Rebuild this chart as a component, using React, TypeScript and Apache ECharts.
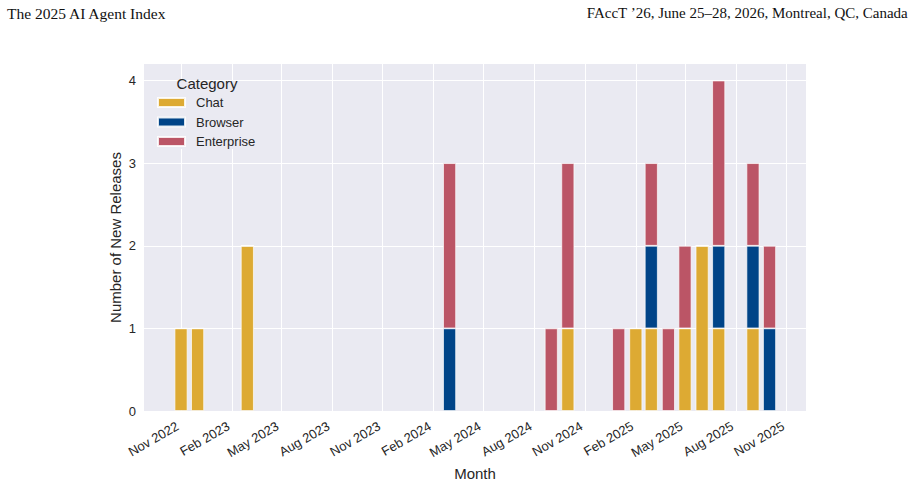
import React, { useEffect, useRef } from "react";
import * as echarts from "echarts";

// ---- data ----
const months = ["2022-11", "2022-12", "2023-03", "2024-03", "2024-09", "2024-10", "2025-01", "2025-02", "2025-03", "2025-04", "2025-05", "2025-06", "2025-07", "2025-09", "2025-10"];
const chat = [1, 1, 2, 0, 0, 1, 0, 1, 1, 0, 1, 2, 1, 1, 0];
const browser = [0, 0, 0, 1, 0, 0, 0, 0, 1, 0, 0, 0, 1, 1, 1];
const enterprise = [0, 0, 0, 2, 1, 2, 1, 0, 1, 1, 1, 0, 2, 1, 1];
const categories = ["Chat", "Browser", "Enterprise"];
const tickMonths = ["2022-11", "2023-02", "2023-05", "2023-08", "2023-11", "2024-02", "2024-05", "2024-08", "2024-11", "2025-02", "2025-05", "2025-08", "2025-11"];
const yTicks = [0, 1, 2, 3, 4];
const monthNames = ["Jan", "Feb", "Mar", "Apr", "May", "Jun", "Jul", "Aug", "Sep", "Oct", "Nov", "Dec"];
const xRange = ["2022-08-26", "2025-12-06"];
const yMax = 4.2;

const COLORS = ["#DDAA33", "#004488", "#BB5566"];
const TEXT = "#262626";
const FONT = "Liberation Sans";

function toTime(m: string): number {
  const [y, mo, d] = m.split("-").map(Number);
  return Date.UTC(y, mo - 1, d || 1);
}

export default function App() {
  const ref = useRef<HTMLDivElement>(null);
  useEffect(() => {
    if (!ref.current) return;
    const chart = echarts.init(ref.current, undefined, { renderer: "svg" });
    const seriesValues = [chat, browser, enterprise];
    const tickVals = tickMonths.map((m) => toTime(m));
    chart.setOption({
      animation: false,
      backgroundColor: "#ffffff",
      textStyle: { fontFamily: FONT },
      grid: { left: 144, right: 109, top: 64, bottom: 72, show: true, backgroundColor: "#EAEAF2", borderWidth: 0 },
      xAxis: {
        type: "value",
        min: toTime(xRange[0]),
        max: toTime(xRange[1]),
        axisLine: { show: false },
        axisTick: { show: false, customValues: tickVals },
        axisLabel: {
          customValues: tickVals,
          rotate: 30,
          margin: 12,
          padding: [0, 4, 0, 0],
          fontSize: 13,
          color: TEXT,
          fontFamily: FONT,
          formatter: (v: number) => {
            const d = new Date(v);
            return monthNames[d.getUTCMonth()] + " " + d.getUTCFullYear();
          },
        },
        splitLine: { show: true, lineStyle: { color: "#ffffff", width: 1 } },
        name: "Month",
        nameLocation: "middle",
        nameGap: 55,
        nameMoveOverlap: false,
        nameTextStyle: { fontSize: 15, color: TEXT, fontFamily: FONT },
      },
      yAxis: {
        type: "value",
        min: 0,
        max: yMax,
        axisLine: { show: false },
        axisTick: { show: false, customValues: yTicks },
        axisLabel: { customValues: yTicks, fontSize: 13, color: TEXT, margin: 8, fontFamily: FONT },
        splitLine: { show: true, lineStyle: { color: "#ffffff", width: 1 } },
        name: "Number of New Releases",
        nameLocation: "middle",
        nameGap: 21,
        nameMoveOverlap: false,
        nameTextStyle: { fontSize: 15, color: TEXT, fontFamily: FONT },
      },
      legend: {
        orient: "vertical",
        left: 150,
        top: 81,
        padding: [15, 4, 1, 7],
        backgroundColor: "#EAEAF2",
        itemWidth: 27,
        itemHeight: 9,
        itemGap: 6.5,
        icon: "rect",
        data: categories,
        textStyle: { fontSize: 13, color: TEXT, fontFamily: FONT, lineHeight: 13, padding: [0, 0, 0, 6] },
      },
      graphic: [
        { type: "text", left: 7, top: 5, style: { text: "The 2025 AI Agent Index", font: '15.5px "Liberation Serif"', fill: "#111" } },
        { type: "text", right: 7, top: 5, style: { text: "FAccT \u201926, June 25\u201328, 2026, Montreal, QC, Canada", font: '15px "Liberation Serif"', fill: "#111" } },
        { type: "text", x: 207, y: 83, z: 100, style: { text: "Category", font: '15px "Liberation Sans"', fill: TEXT, align: "center", verticalAlign: "middle" } },
      ],
      // value first so that ECharts stacks the count dimension (not the date one)
      series: categories.map((name, i) => ({
        name,
        type: "bar",
        stack: "total",
        barWidth: 13,
        encode: { x: 1, y: 0 },
        itemStyle: { color: COLORS[i], borderColor: "rgba(255,255,255,0.85)", borderWidth: 0.8 },
        data: months.map((m, j) => [seriesValues[i][j], toTime(m)]),
      })),
    });
    return () => chart.dispose();
  }, []);
  return <div ref={ref} style={{ position: "fixed", left: 0, top: 0, width: 915, height: 486 }} />;
}
